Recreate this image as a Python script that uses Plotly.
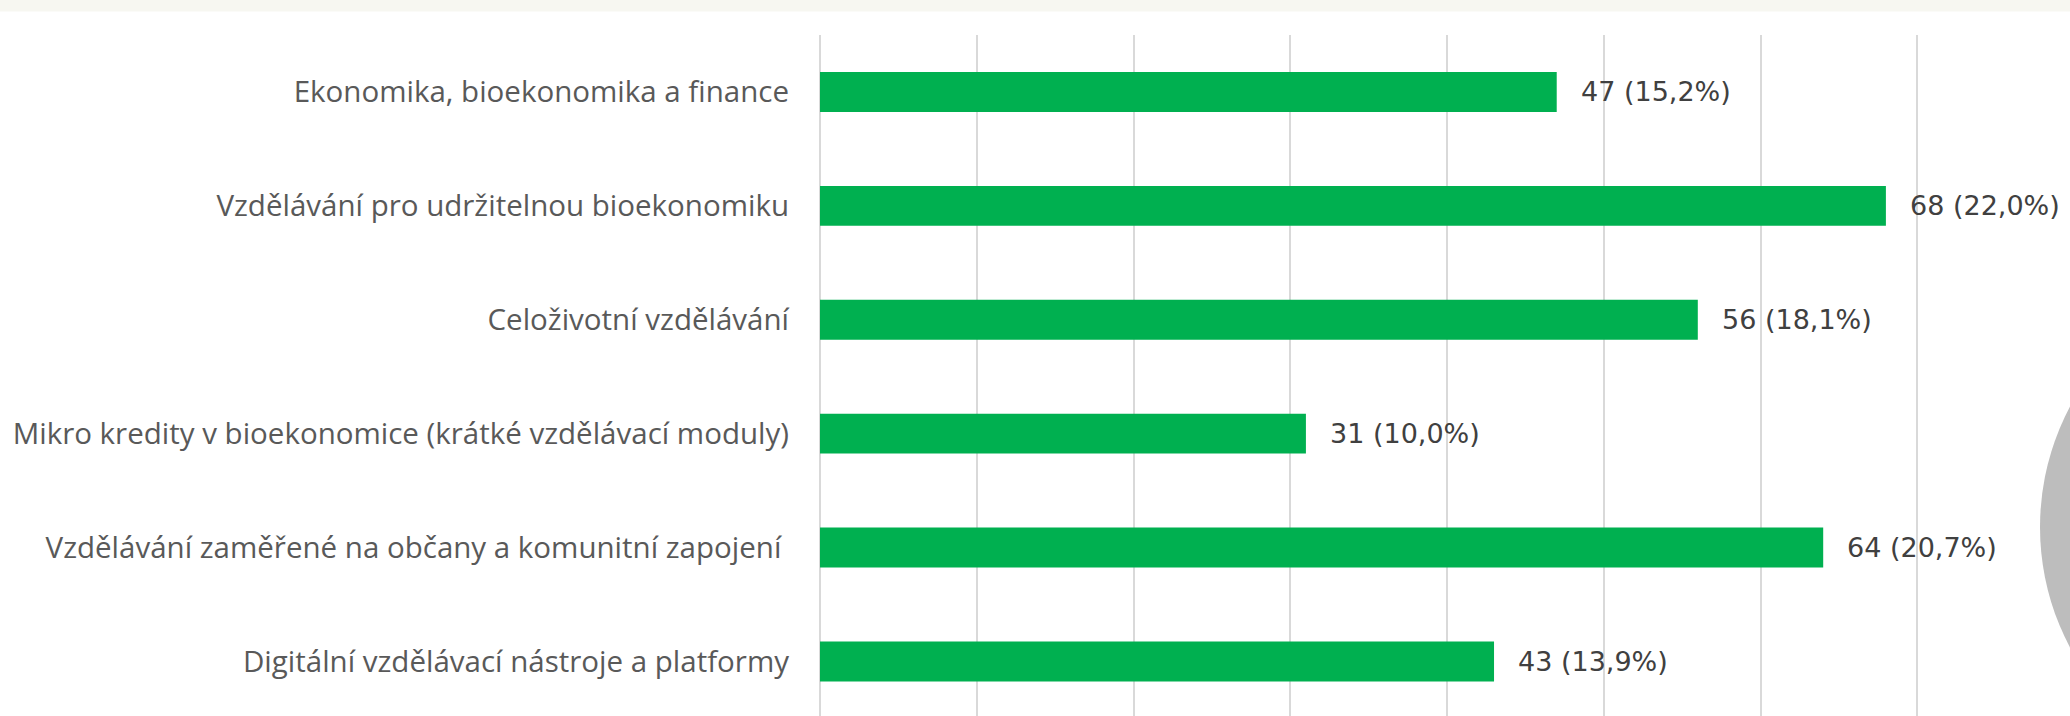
import plotly.graph_objects as go

categories = [
    "Ekonomika, bioekonomika a finance",
    "Vzdělávání pro udržitelnou bioekonomiku",
    "Celoživotní vzdělávání",
    "Mikro kredity v bioekonomice (krátké vzdělávací moduly)",
    "Vzdělávání zaměřené na občany a komunitní zapojení ",
    "Digitální vzdělávací nástroje a platformy",
]
values = [47, 68, 56, 31, 64, 43]
percents = ["15,2%", "22,0%", "18,1%", "10,0%", "20,7%", "13,9%"]
x_ticks = [0, 10, 20, 30, 40, 50, 60, 70, 80]

W, H = 2070, 716
ML, MT = 820, 35
plot_w = W - ML
plot_h = H - MT

fig = go.Figure()
fig.add_trace(go.Bar(
    x=values, y=categories, orientation="h",
    marker=dict(color="#00B050", line=dict(width=0)),
    hoverinfo="skip",
))

for c, v, p in zip(categories, values, percents):
    fig.add_annotation(
        x=v, y=c, text=f"{v} ({p})", showarrow=False,
        xanchor="left", yanchor="middle", xshift=22,
        font=dict(family="DejaVu Sans, Arial, sans-serif", size=27, color="#404040"),
    )

band = plot_h / 6.0
def px_to_paper_x(px):
    return (px - ML) / plot_w

def px_to_paper_y(py):
    return (H - py) / plot_h

# decorative top band
fig.add_shape(type="rect", xref="paper", yref="paper",
              x0=px_to_paper_x(0), x1=px_to_paper_x(W),
              y0=px_to_paper_y(11.5), y1=px_to_paper_y(0),
              fillcolor="#f7f7f1", line=dict(width=0), layer="below")
# decorative grey circle on the right edge
cx, cy, r = 2297, 527, 257
fig.add_shape(type="circle", xref="paper", yref="paper",
              x0=px_to_paper_x(cx - r), x1=px_to_paper_x(cx + r),
              y0=px_to_paper_y(cy + r), y1=px_to_paper_y(cy - r),
              fillcolor="#bdbdbd", line=dict(width=0), layer="above")

x_max = 80 * (W - ML) / 1254.0

fig.update_layout(
    width=W, height=H,
    margin=dict(l=ML, r=0, t=MT, b=0, pad=0),
    paper_bgcolor="white", plot_bgcolor="white",
    showlegend=False,
    bargap=0.65,
    xaxis=dict(
        range=[0, x_max], tickvals=x_ticks, showticklabels=False,
        showgrid=True, gridcolor="#d9d9d9", gridwidth=2,
        zeroline=True, zerolinecolor="#d9d9d9", zerolinewidth=2,
        showline=False, ticks="",
    ),
    yaxis=dict(
        categoryorder="array", categoryarray=categories,
        range=[5.5 - 2.4 / band, -0.5],
        showgrid=False, zeroline=False, showline=False, ticks="",
        ticklabelstandoff=30,
        tickfont=dict(family="Open Sans, Roboto, sans-serif", size=29.5, color="#595959"),
    ),
)

fig.write_html("out.html")
